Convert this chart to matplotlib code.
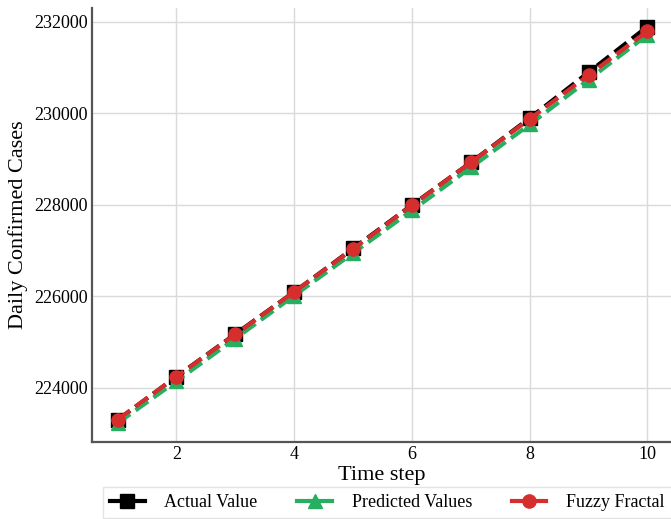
import matplotlib
matplotlib.use("Agg")
import matplotlib.pyplot as plt
from matplotlib.lines import Line2D

plt.rcParams['font.family'] = ['Liberation Serif', 'DejaVu Serif']

time_steps = [1, 2, 3, 4, 5, 6, 7, 8, 9, 10]
actual_values = [223300, 224250, 225180, 226100, 227050, 228000, 228930, 229900, 230900, 231900]
predicted_values = [223230, 224150, 225080, 226020, 226950, 227880, 228820, 229760, 230740, 231720]
fuzzy_fractal = [223310, 224250, 225170, 226100, 227040, 227990, 228930, 229880, 230840, 231800]
y_ticks = [224000, 226000, 228000, 230000, 232000]
x_ticks = [2, 4, 6, 8, 10]

c_black = '#000000'
c_green = '#27ae60'
c_red = '#d62d2d'

fig = plt.figure(figsize=(6.71, 5.19), dpi=100)
ax = fig.add_axes([92/671, 1-441.7/519, 1-92/671, (441.7-8)/519])

ax.plot(time_steps, actual_values, color=c_black, ls='--', lw=3, marker='s', ms=9.5, zorder=3)
ax.plot(time_steps, predicted_values, color=c_green, ls='--', lw=3, marker='^', ms=9.5, zorder=4)
ax.plot(time_steps, fuzzy_fractal, color=c_red, ls='--', lw=3, marker='o', ms=9.5, zorder=5)

ax.set_xlim(0.565, 10.4)
ax.set_ylim(222826, 232306)
ax.set_xticks(x_ticks)
ax.set_yticks(y_ticks)
ax.tick_params(labelsize=13, length=0, pad=3)
ax.grid(True, color='#dadada', lw=1)
ax.set_axisbelow(True)
for s in ['top', 'right']:
    ax.spines[s].set_visible(False)
for s in ['left', 'bottom']:
    ax.spines[s].set_color('#555555')
    ax.spines[s].set_linewidth(1.6)

ax.set_xlabel('Time step', fontsize=16, labelpad=2)
ax.set_ylabel('Daily Confirmed Cases', fontsize=16)
ax.yaxis.set_label_coords((28-92)/579, 0.5)

handles = [
    Line2D([], [], color=c_black, lw=3, marker='s', ms=9.5),
    Line2D([], [], color=c_green, lw=3, marker='^', ms=9.5),
    Line2D([], [], color=c_red, lw=3, marker='o', ms=9.5),
]
labels = ['Actual Value', 'Predicted Values', 'Fuzzy Fractal']
fig.legend(handles, labels, loc='upper left', bbox_to_anchor=(103/671, 1-487/519),
           ncol=3, fontsize=13, frameon=True, edgecolor='#dddddd', fancybox=False,
           handlelength=1.9, columnspacing=2.2, handletextpad=1.1, borderaxespad=0)

fig.savefig('out.png', dpi=100)
